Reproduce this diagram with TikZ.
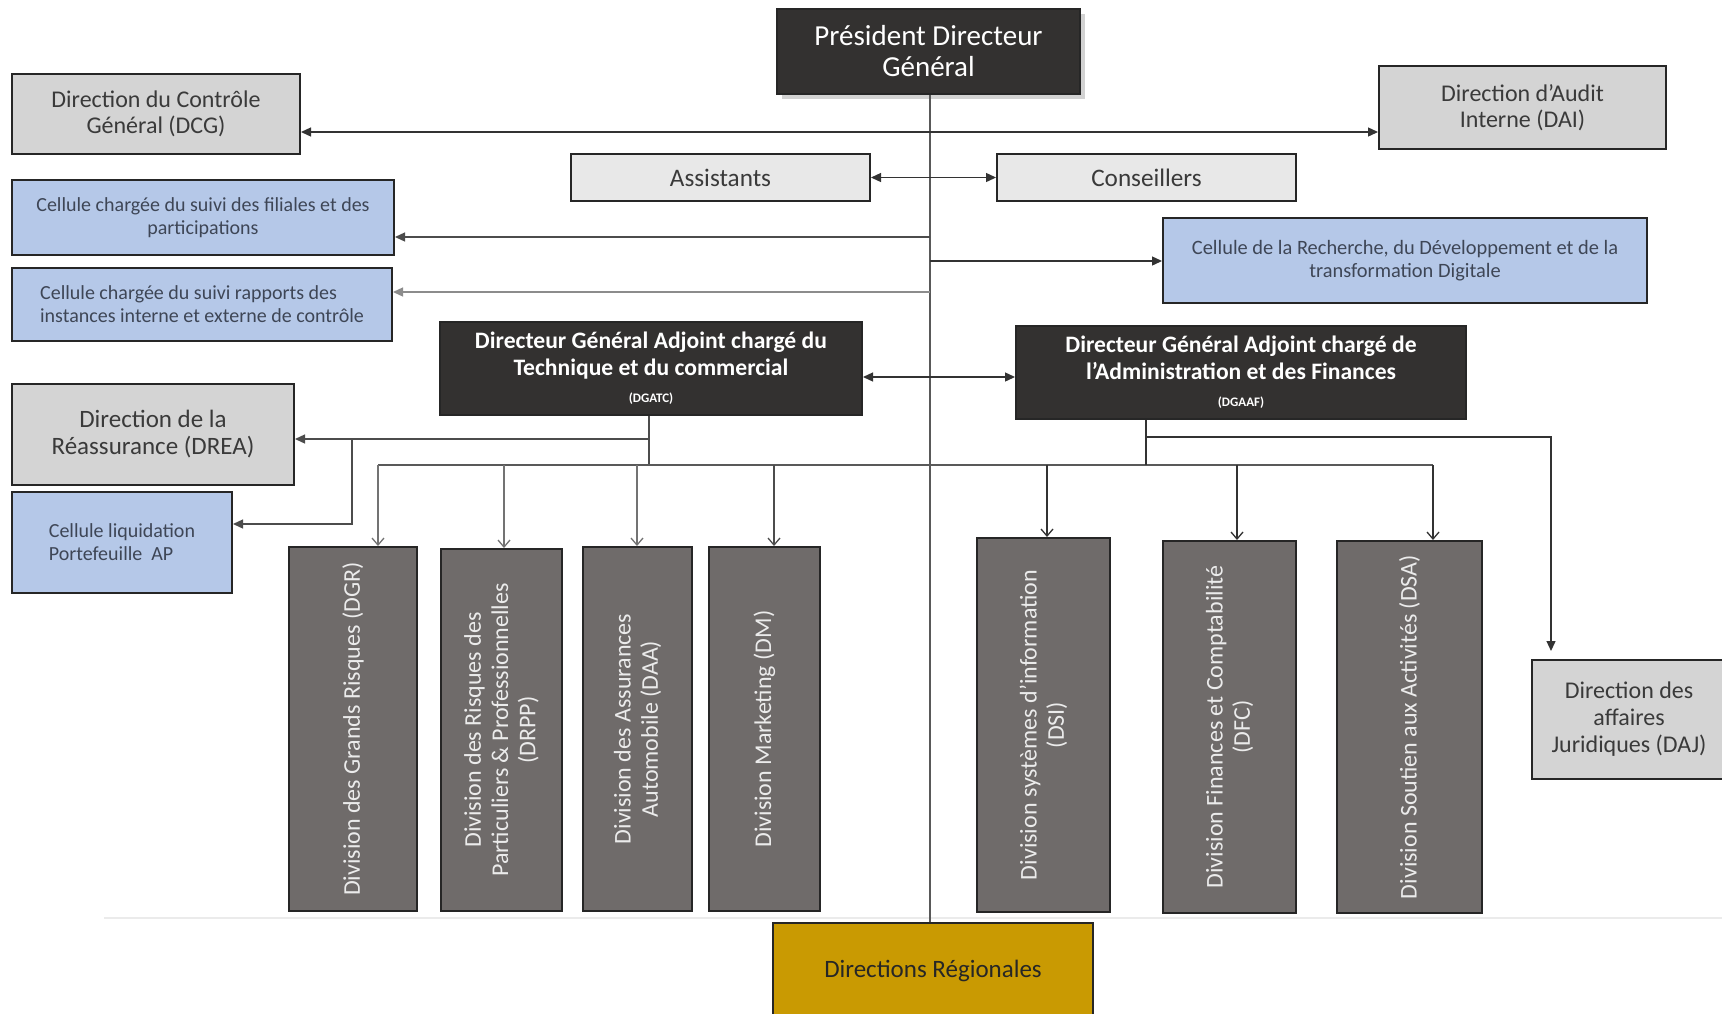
\documentclass[tikz,border=0pt]{standalone}
\usepackage{fontspec}
\setmainfont{Carlito}
\usetikzlibrary{arrows.meta,shadows}
\definecolor{darkbox}{HTML}{333130}
\definecolor{divbox}{HTML}{6F6B6A}
\definecolor{lgray}{HTML}{D4D4D4}
\definecolor{vlgray}{HTML}{E8E8E8}
\definecolor{bluec}{HTML}{B5C8E8}
\definecolor{goldc}{HTML}{C99A02}
\definecolor{txtg}{HTML}{3A3A3A}
\definecolor{txtb}{HTML}{3E4656}
\newcommand\mkbox[7]{\node[#6, minimum width={(#4-#2)*0.5pt}, minimum height={(#5-#3)*0.5pt}] (#1) at ({(#2+#4)/2},{(#3+#5)/2}) {#7};}
\begin{document}
\begin{tikzpicture}[x=0.5pt,y=-0.5pt,
  basebox/.style={draw=black!85, line width=1pt, inner sep=0pt, align=center},
  darkb/.style={basebox, fill=darkbox, text=white},
  grayb/.style={basebox, fill=lgray, text=txtg, font=\fontsize{12}{13}\selectfont},
  vgrayb/.style={basebox, fill=vlgray, text=txtg, font=\fontsize{12.6}{13}\selectfont},
  blueb/.style={basebox, fill=bluec, text=txtb, font=\fontsize{10}{11.5}\selectfont},
  divb/.style={basebox, fill=divbox},
  divtext/.style={text=white!92!black, align=center, font=\fontsize{12}{13.6}\selectfont, inner sep=0pt},
  conn/.style={draw=black!80, line width=0.65pt},
  spine/.style={draw=black!65, line width=1pt},
  endtri/.style={-{Triangle[length=5pt,width=4.5pt]}},
  bothtri/.style={{Triangle[length=5pt,width=4.5pt]}-{Triangle[length=5pt,width=4.5pt]}},
  vtip/.style={-{Straight Barb[length=3.5pt,width=6pt]}},
  faint/.style={draw=black!8, line width=0.8pt}
]
\useasboundingbox (0,0) rectangle (1722,1013);
\clip (0,0) rectangle (1722,1013);
\fill[white] (0,0) rectangle (1722,1013);

% faint base line
\draw[faint] (104,918) -- (1722,918);

% boxes
\mkbox{PDG}{777}{9}{1080}{94}{darkb, drop shadow={shadow xshift=2.5pt, shadow yshift=-2.5pt, fill=black!35}, font=\fontsize{14.5}{15.5}\selectfont}{Président Directeur\\Général}
\mkbox{DCG}{12}{74}{300}{154}{grayb}{Direction du Contrôle\\Général (DCG)}
\mkbox{DAI}{1379}{66}{1666}{149}{grayb}{Direction d’Audit\\Interne (DAI)}
\mkbox{Asst}{571}{154}{870}{201}{vgrayb}{Assistants}
\mkbox{Cons}{997}{154}{1296}{201}{vgrayb}{Conseillers}
\mkbox{Fil}{12}{180}{394}{255}{blueb}{Cellule chargée du suivi des filiales et des\\participations}
\mkbox{Rap}{12}{268}{392}{341}{blueb, align=left}{Cellule chargée du suivi rapports des\\instances interne et externe de contrôle}
\mkbox{Rech}{1163}{218}{1647}{303}{blueb, font=\fontsize{10.2}{11.5}\selectfont}{Cellule de la Recherche, du Développement et de la\\transformation Digitale}
\mkbox{DGATC}{440}{322}{862}{415}{darkb, font=\bfseries\fontsize{11.8}{13.5}\selectfont}{Directeur Général Adjoint chargé du\\Technique et du commercial\\{\fontsize{6.5}{8}\selectfont (DGATC)}}
\mkbox{DGAAF}{1016}{326}{1466}{419}{darkb, font=\bfseries\fontsize{11.8}{13.5}\selectfont}{Directeur Général Adjoint chargé de\\l’Administration et des Finances\\{\fontsize{6.5}{8}\selectfont (DGAAF)}}
\mkbox{DREA}{12}{384}{294}{485}{grayb, font=\fontsize{12.5}{13.5}\selectfont}{Direction de la\\Réassurance (DREA)}
\mkbox{Liq}{12}{492}{232}{593}{blueb, align=left}{Cellule liquidation\\Portefeuille~~AP}
\mkbox{DAJ}{1532}{660}{1726}{779}{grayb, font=\fontsize{12}{13.5}\selectfont}{Direction des\\affaires\\Juridiques (DAJ)}
\mkbox{DR}{773}{923}{1093}{1018}{basebox, fill=goldc, text=black!85, font=\fontsize{12.5}{13}\selectfont}{Directions Régionales}

% division boxes
\mkbox{DGR}{289}{547}{417}{911}{divb}{}
\mkbox{DRPP}{441}{549}{562}{911}{divb}{}
\mkbox{DAA}{583}{547}{692}{911}{divb}{}
\mkbox{DM}{709}{547}{820}{911}{divb}{}
\mkbox{DSI}{977}{538}{1110}{912}{divb}{}
\mkbox{DFC}{1163}{541}{1296}{913}{divb}{}
\mkbox{DSA}{1337}{541}{1482}{913}{divb}{}
\node[divtext, rotate=90] (DGRt) at (DGR.center) {Division des Grands Risques (DGR)};
\node[divtext, rotate=90] (DRPPt) at (DRPP.center) {Division des Risques des\\Particuliers \& Professionnelles\\(DRPP)};
\node[divtext, rotate=90] (DAAt) at (DAA.center) {Division des Assurances\\Automobile (DAA)};
\node[divtext, rotate=90] (DMt) at (DM.center) {Division Marketing (DM)};
\node[divtext, rotate=90] (DSIt) at (DSI.center) {Division systèmes d’information\\(DSI)};
\node[divtext, rotate=90] (DFCt) at (DFC.center) {Division Finances et Comptabilité\\(DFC)};
\node[divtext, rotate=90] (DSAt) at (DSA.center) {Division Soutien aux Activités (DSA)};

% coordinates
\coordinate (sx) at (930,0);
\coordinate (r1) at (0,132);
\coordinate (r3) at (0,237);
\coordinate (r4) at (0,261);
\coordinate (r5) at (0,292);
\coordinate (r6) at (0,377);
\coordinate (ta) at (649,0);
\coordinate (tb) at (1146,0);
\coordinate (dreaY) at (0,439);
\coordinate (stub) at (352,439);
\coordinate (liqY) at (0,524);
\coordinate (bus) at (0,465);
\coordinate (busL) at (378,465);
\coordinate (busR) at (1433,465);
\coordinate (dajY) at (0,437);
\coordinate (xdaj) at (1551,0);
\coordinate (x1) at (378,0);
\coordinate (x2) at (504,0);
\coordinate (x3) at (637,0);
\coordinate (x4) at (774,0);
\coordinate (x5) at (1047,0);
\coordinate (x6) at (1237,0);
\coordinate (x7) at (1433,0);

% spine
\draw[spine] (PDG.south -| sx) -- (DR.north -| sx);

% top connectors
\draw[conn, bothtri] (DCG.east |- r1) -- (DAI.west |- r1);
\draw[conn, bothtri] (Asst.east) -- (Cons.west);
\draw[conn, draw=black!70, endtri] (sx |- r3) -- (Fil.east |- r3);
\draw[conn, endtri] (sx |- r4) -- (Rech.west |- r4);
\draw[conn, draw=black!45, endtri] (sx |- r5) -- (Rap.east |- r5);
\draw[conn, bothtri] (DGATC.east |- r6) -- (DGAAF.west |- r6);

% DGATC tree
\draw[conn, draw=black!70] (DGATC.south -| ta) -- (bus -| ta);
\draw[conn, draw=black!70, endtri] (dreaY -| ta) -- (DREA.east |- dreaY);
\draw[conn, draw=black!70, endtri] (stub) -- (stub |- liqY) -- (Liq.east |- liqY);
\draw[conn, draw=black!65] (busL) -- (busR);
\draw[conn, draw=black!55, vtip] (bus -| x1) -- (DGR.north -| x1);
\draw[conn, draw=black!55, vtip] (bus -| x2) -- (DRPP.north -| x2);
\draw[conn, draw=black!55, vtip] (bus -| x3) -- (DAA.north -| x3);
\draw[conn, draw=black!70, vtip] (bus -| x4) -- (DM.north -| x4);

% DGAAF tree
\draw[conn] (DGAAF.south -| tb) -- (bus -| tb);
\draw[conn, vtip] (bus -| x5) -- (DSI.north -| x5);
\draw[conn, vtip] (bus -| x6) -- (DFC.north -| x6);
\draw[conn, vtip] (bus -| x7) -- (DSA.north -| x7);
\draw[conn, endtri, shorten >=4pt] (dajY -| tb) -- (dajY -| xdaj) -- (DAJ.north -| xdaj);
\end{tikzpicture}
\end{document}
